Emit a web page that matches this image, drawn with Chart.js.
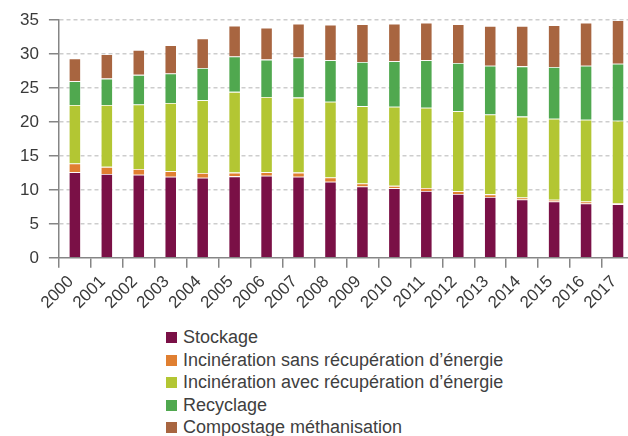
<!DOCTYPE html>
<html>
<head>
<meta charset="utf-8">
<script src="https://cdn.jsdelivr.net/npm/chart.js@4"></script>
<style>
  html, body { margin: 0; padding: 0; background: #fff; overflow: hidden; width: 628px; height: 436px; }
  #wrap { position: absolute; left: 0; top: 0; width: 640px; height: 319px; }
  #legend { position: absolute; left: 166px; top: 326px; font-family: "Liberation Sans", Arial, sans-serif; font-size: 18px; color: #404040; }
  #legend .row { height: 22.5px; line-height: 22.5px; white-space: nowrap; }
  #legend .box { display: inline-block; width: 11px; height: 11px; margin-right: 6px; vertical-align: 0; }
</style>
</head>
<body>
<div id="wrap"><canvas id="c"></canvas></div>
<div id="legend"></div>
<script>
const years = ["2000","2001","2002","2003","2004","2005","2006","2007","2008","2009","2010","2011","2012","2013","2014","2015","2016","2017"];
const seriesNames = ["Stockage", "Incinération sans récupération d’énergie", "Incinération avec récupération d’énergie", "Recyclage", "Compostage méthanisation"];
const stockage   = [12.6,12.35,12.25,11.95,11.8,12.0,12.1,11.95,11.2,10.5,10.25,9.85,9.4,8.95,8.6,8.3,8.0,7.9];
const sansRecup  = [1.3,1.05,0.85,0.8,0.7,0.55,0.5,0.6,0.65,0.45,0.35,0.45,0.4,0.4,0.3,0.25,0.3,0.15];
const avecRecup  = [8.6,9.1,9.5,10.05,10.7,11.9,11.1,11.05,11.15,11.4,11.65,11.8,11.8,11.75,11.9,11.95,12.05,12.15];
const recyclage  = [3.5,3.9,4.35,4.35,4.75,5.2,5.5,5.9,6.1,6.5,6.7,7.0,7.1,7.2,7.4,7.6,7.95,8.4];
const compostage = [3.35,3.6,3.65,4.15,4.35,4.55,4.7,5.0,5.25,5.55,5.55,5.55,5.7,5.85,5.95,6.15,6.35,6.4];
const yTicks = [0,5,10,15,20,25,30,35];

const colors = ["#7a1046", "#e07f31", "#b3c633", "#50a84f", "#a86540"];
const seriesData = [stockage, sansRecup, avecRecup, recyclage, compostage];

const datasets = seriesNames.map((n, i) => ({
  label: n,
  data: seriesData[i],
  backgroundColor: colors[i],
  borderColor: "rgba(255,255,255,0.45)",
  borderWidth: 0.8,
  barPercentage: 0.38,
  categoryPercentage: 1.0
}));

const fam = "'Liberation Sans', Arial, sans-serif";

new Chart(document.getElementById("c"), {
  type: "bar",
  data: { labels: years, datasets },
  options: {
    responsive: true,
    maintainAspectRatio: false,
    animation: false,
    layout: { padding: { top: 10, right: 6, left: 10, bottom: 2 } },
    plugins: { legend: { display: false }, tooltip: { enabled: false } },
    scales: {
      x: {
        stacked: true,
        grid: { display: true, drawOnChartArea: false, drawTicks: true, tickLength: 10, tickColor: "#858585", tickWidth: 1.5, lineWidth: 1.5, offset: true },
        border: { display: true, color: "#858585", width: 1.5 },
        ticks: { color: "#3a3a3a", font: { family: fam, size: 17 }, maxRotation: 45, minRotation: 45, autoSkip: false, padding: 4, labelOffset: -4 }
      },
      y: {
        stacked: true,
        min: 0, max: 35,
        afterBuildTicks: (axis) => { axis.ticks = yTicks.map(v => ({ value: v })); },
        grid: {
          color: (ctx) => (ctx.tick && ctx.tick.value === 0) ? "rgba(0,0,0,0)" : "#cdcdcd",
          lineWidth: 1.5, tickLength: 10, tickColor: "#858585", tickWidth: 1.5, drawTicks: true, tickBorderDash: []
        },
        border: { display: true, color: "#858585", width: 1.5, dash: [4, 3] },
        ticks: { color: "#3a3a3a", font: { family: fam, size: 17 }, padding: 10 }
      }
    }
  }
});

const lg = document.getElementById("legend");
seriesNames.forEach((n, i) => {
  const r = document.createElement("div");
  r.className = "row";
  const b = document.createElement("span");
  b.className = "box";
  b.style.background = colors[i];
  r.appendChild(b);
  r.appendChild(document.createTextNode(n));
  lg.appendChild(r);
});
</script>
</body>
</html>
